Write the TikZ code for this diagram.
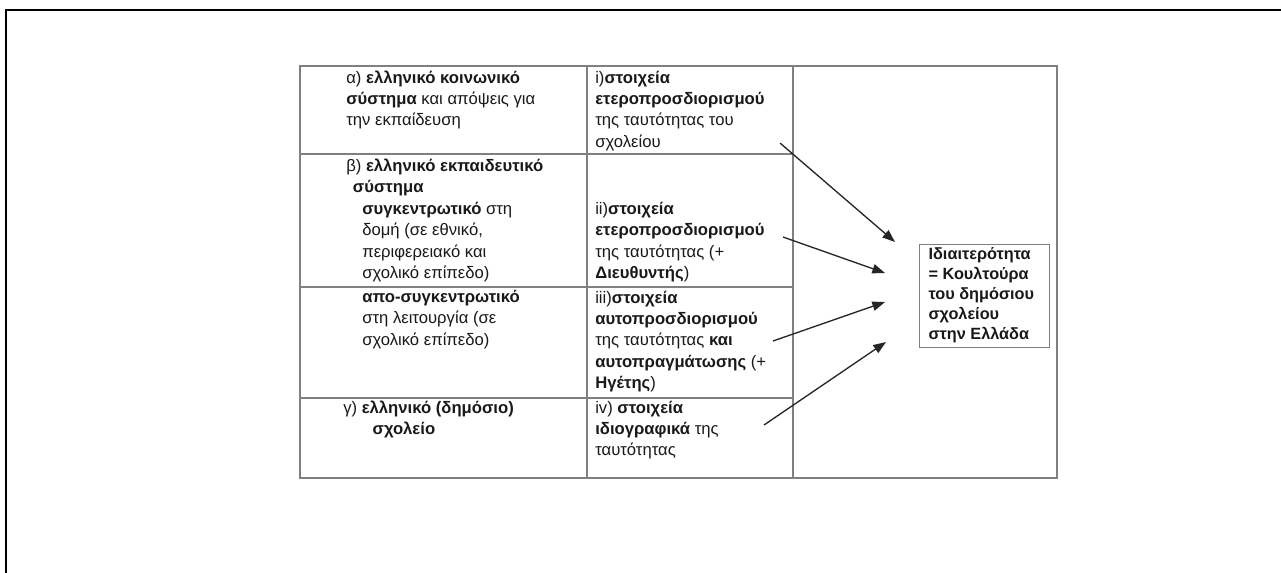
\documentclass[tikz,border=0pt]{standalone}
\usepackage{fontspec}
\setmainfont{Liberation Sans}
\usetikzlibrary{arrows.meta}
% lines of one table cell, first baseline at the node's base
\newcommand\cellrows[1]{\begin{tabular}[t]{@{}l@{}}#1\end{tabular}}
\begin{document}
\begin{tikzpicture}[x=0.75pt,y=-0.75pt,
  frame/.style={line width=1.9pt,black},
  grid/.style={draw=black!50,line width=0.9pt},
  cell/.style={anchor=base west,inner sep=0pt,text=black!90,
    font=\fontsize{12.5}{16.1}\selectfont},
  goal/.style={draw=black!50,line width=0.9pt,anchor=north west,
    inner xsep=6.75pt,inner ysep=1pt,text=black!90,
    font=\bfseries\fontsize{12.2}{15}\selectfont},
  link/.style={draw=black!85,line width=1pt,-{Triangle[length=9.5pt,width=7pt]}}
]
\useasboundingbox (0,0) rectangle (1281,572);
\draw[frame] (6,580) -- (6,10) -- (1290,10);

% table grid
\draw[grid] (300,66) rectangle (1057,478);
\draw[grid] (587,66) -- (587,478);
\draw[grid] (793,66) -- (793,478);
\draw[grid] (300,154) -- (793,154);
\draw[grid] (300,287) -- (793,287);
\draw[grid] (300,398) -- (793,398);

% first column
\node[cell] (alpha) at (346,83) {\cellrows{%
  α) \textbf{ελληνικό κοινωνικό}\\
  \textbf{σύστημα} και απόψεις για\\
  την εκπαίδευση}};
\node[cell] (beta) at (346,171.5) {\cellrows{%
  β) \textbf{ελληνικό εκπαιδευτικό}\\
  \hspace*{5pt}\textbf{σύστημα}\\
  \hspace*{12pt}\textbf{συγκεντρωτικό} στη\\
  \hspace*{12pt}δομή (σε εθνικό,\\
  \hspace*{12pt}περιφερειακό και\\
  \hspace*{12pt}σχολικό επίπεδο)}};
\node[cell] (decentral) at (362,302.5) {\cellrows{%
  \textbf{απο-συγκεντρωτικό}\\
  στη λειτουργία (σε\\
  σχολικό επίπεδο)}};
\node[cell] (gamma) at (343,413) {\cellrows{%
  γ) \textbf{ελληνικό (δημόσιο)}\\
  \hspace*{22pt}\textbf{σχολείο}}};

% second column
\node[cell] (el1) at (595,83) {\cellrows{%
  i)\textbf{στοιχεία}\\
  \textbf{ετεροπροσδιορισμού}\\
  της ταυτότητας του\\
  σχολείου}};
\node[cell] (el2) at (595,214.5) {\cellrows{%
  ii)\textbf{στοιχεία}\\
  \textbf{ετεροπροσδιορισμού}\\
  της ταυτότητας (+\\
  \textbf{Διευθυντής})}};
\node[cell] (el3) at (595,303) {\cellrows{%
  iii)\textbf{στοιχεία}\\
  \textbf{αυτοπροσδιορισμού}\\
  της ταυτότητας \textbf{και}\\
  \textbf{αυτοπραγμάτωσης} (+\\
  \textbf{Ηγέτης})}};
\node[cell] (el4) at (595,413) {\cellrows{%
  iv) \textbf{στοιχεία}\\
  \textbf{ιδιογραφικά} της\\
  ταυτότητας}};

% result box
\node[goal] (box) at (919,244) {\begin{tabular}[t]{@{}p{84pt}@{}}%
  Ιδιαιτερότητα\\
  = Κουλτούρα\\
  του δημόσιου\\
  σχολείου\\
  στην Ελλάδα\end{tabular}};

% arrows towards the box
\coordinate (s1) at (780,143); \coordinate (e1) at (895,242);
\coordinate (s2) at (783,237); \coordinate (e2) at (885,273);
\coordinate (s3) at (773,341); \coordinate (e3) at (885,302);
\coordinate (s4) at (764,425); \coordinate (e4) at (886,342);
\draw[link] (s1) -- (e1);
\draw[link] (s2) -- (e2);
\draw[link] (s3) -- (e3);
\draw[link] (s4) -- (e4);
\end{tikzpicture}
\end{document}
